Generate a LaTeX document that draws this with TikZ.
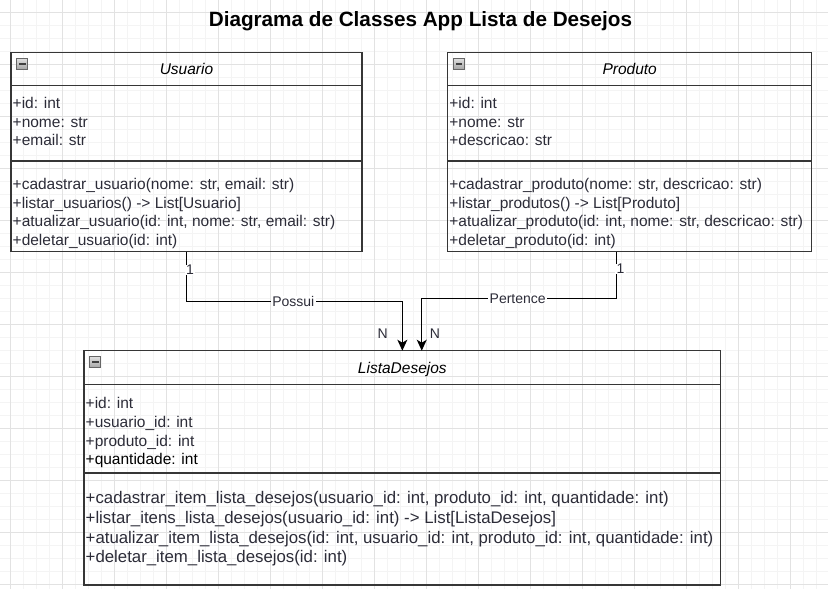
\documentclass[tikz,border=0pt]{standalone}
\usepackage{fontspec}
\setmainfont{Liberation Sans}
\usetikzlibrary{positioning,arrows.meta}
\definecolor{borda}{RGB}{54,54,54}
\definecolor{texto}{RGB}{44,44,56}
\definecolor{gradeforte}{RGB}{226,226,226}
\definecolor{gradefraca}{RGB}{244,244,244}
\begin{document}
\begin{tikzpicture}[x=1pt,y=-1pt]
        \tikzstyle{cabeca}=[draw=borda, line width=1.4pt, inner sep=0pt, outer sep=0pt, text height=11.1pt, text depth=0pt, font=\fontsize{15.5}{18.7}\selectfont\itshape]
        \tikzstyle{compart}=[draw=borda, line width=1.4pt, inner sep=0pt, outer sep=0pt]
        \tikzstyle{membro}=[anchor=north west, align=left, inner sep=0pt, text=texto, font=\fontsize{15.5}{18.7}\selectfont]
        \tikzstyle{menos}=[draw=black!60, line width=0.8pt, top color=black!12, bottom color=black!35, minimum size=11pt, inner sep=0pt, path picture={\fill[black!75] ([shift={(2.2,-1.1)}]path picture bounding box.west) rectangle ([shift={(-2.2,1.1)}]path picture bounding box.east);}]
        \tikzstyle{rotulo}=[fill=white, inner xsep=1.5pt, inner ysep=0.5pt, text=texto, font=\fontsize{14}{16}\selectfont]
        \tikzstyle{assoc}=[draw=black, line width=1.3pt, -{Stealth[length=11pt, width=10pt, inset=3pt]}]

        \useasboundingbox (0,0) rectangle (828,589);
        \fill[white] (0,0) rectangle (828,589);
        \foreach \i in {0,...,62} \draw[gradefraca, line width=1pt] (10.5+13*\i,0) -- (10.5+13*\i,589);
        \foreach \j in {0,...,44} \draw[gradefraca, line width=1pt] (0,12+13*\j) -- (828,12+13*\j);
        \foreach \i in {0,...,15} \draw[gradeforte, line width=1pt] (10.5+52*\i,0) -- (10.5+52*\i,589);
        \foreach \j in {0,...,11} \draw[gradeforte, line width=1pt] (0,12+52*\j) -- (828,12+52*\j);

        \node[anchor=base, font=\fontsize{20.7}{24}\selectfont\bfseries] (titulo) at (420.5,26.7) {Diagrama de Classes App Lista de Desejos};

        \node[cabeca, minimum width=351pt, minimum height=33.4pt] (usuario) at (186.5,69) {Usuario};
        \node[compart, minimum width=351pt, minimum height=75.3pt, below=0pt of usuario] (usuario-atr) {};
        \node[compart, minimum width=351pt, minimum height=90.7pt, below=0pt of usuario-atr] (usuario-met) {};
        \node[menos] (usuario-menos) at ([shift={(11.2,11.4)}]usuario.north west) {};
        \node[membro] (usuario-atr-txt) at ([shift={(1.5,11.2)}]usuario-atr.north west) {+id: int\\+nome: str\\+email: str};
        \node[membro] (usuario-met-txt) at ([shift={(1.5,17)}]usuario-met.north west) {+cadastrar\_usuario(nome: str, email: str)\\+listar\_usuarios() -> List[Usuario]\\+atualizar\_usuario(id: int, nome: str, email: str)\\+deletar\_usuario(id: int)};

        \node[cabeca, minimum width=364pt, minimum height=33.4pt] (produto) at (629.7,69) {Produto};
        \node[compart, minimum width=364pt, minimum height=75.3pt, below=0pt of produto] (produto-atr) {};
        \node[compart, minimum width=364pt, minimum height=90.7pt, below=0pt of produto-atr] (produto-met) {};
        \node[menos] (produto-menos) at ([shift={(11.2,11.4)}]produto.north west) {};
        \node[membro] (produto-atr-txt) at ([shift={(1.5,11.2)}]produto-atr.north west) {+id: int\\+nome: str\\+descricao: str};
        \node[membro] (produto-met-txt) at ([shift={(1.5,17)}]produto-met.north west) {+cadastrar\_produto(nome: str, descricao: str)\\+listar\_produtos() -> List[Produto]\\+atualizar\_produto(id: int, nome: str, descricao: str)\\+deletar\_produto(id: int)};

        \node[cabeca, minimum width=636.7pt, minimum height=33.6pt] (lista) at (402.35,367.5) {ListaDesejos};
        \node[compart, minimum width=636.7pt, minimum height=88.7pt, below=0pt of lista] (lista-atr) {};
        \node[compart, minimum width=636.7pt, minimum height=111.8pt, below=0pt of lista-atr] (lista-met) {};
        \node[menos] (lista-menos) at ([shift={(11.2,11.4)}]lista.north west) {};
        \node[membro] (lista-atr-txt) at ([shift={(1.5,12.9)}]lista-atr.north west) {+id: int\\+usuario\_id: int\\+produto\_id: int\\\textcolor{black}{+quantidade: int}};
        \node[membro, font=\fontsize{16.8}{19.8}\selectfont] (lista-met-txt) at ([shift={(1.5,18.1)}]lista-met.north west) {+cadastrar\_item\_lista\_desejos(usuario\_id: int, produto\_id: int, quantidade: int)\\+listar\_itens\_lista\_desejos(usuario\_id: int) -> List[ListaDesejos]\\+atualizar\_item\_lista\_desejos(id: int, usuario\_id: int, produto\_id: int, quantidade: int)\\+deletar\_item\_lista\_desejos(id: int)};

        \coordinate (possui) at (293.3,301.7);
        \coordinate (pertence) at (517.7,298.3);
        \draw[assoc] (usuario-met.south) |- (possui) -| (lista.north);
        \draw[assoc] ([shift={(-13,0)}]produto-met.south) |- (pertence) -| ([shift={(19.4,0)}]lista.north);

        \node[rotulo] (possui-txt) at (possui) {Possui};
        \node[rotulo] (pertence-txt) at (pertence) {Pertence};
        \node[rotulo] (usuario-mult) at (190,270) {1};
        \node[rotulo] (produto-mult) at (620.5,269) {1};
        \node[rotulo, fill=none] (usuario-n) at (382.7,334) {N};
        \node[rotulo, fill=none] (produto-n) at (435,334) {N};
    \end{tikzpicture}
\end{document}
